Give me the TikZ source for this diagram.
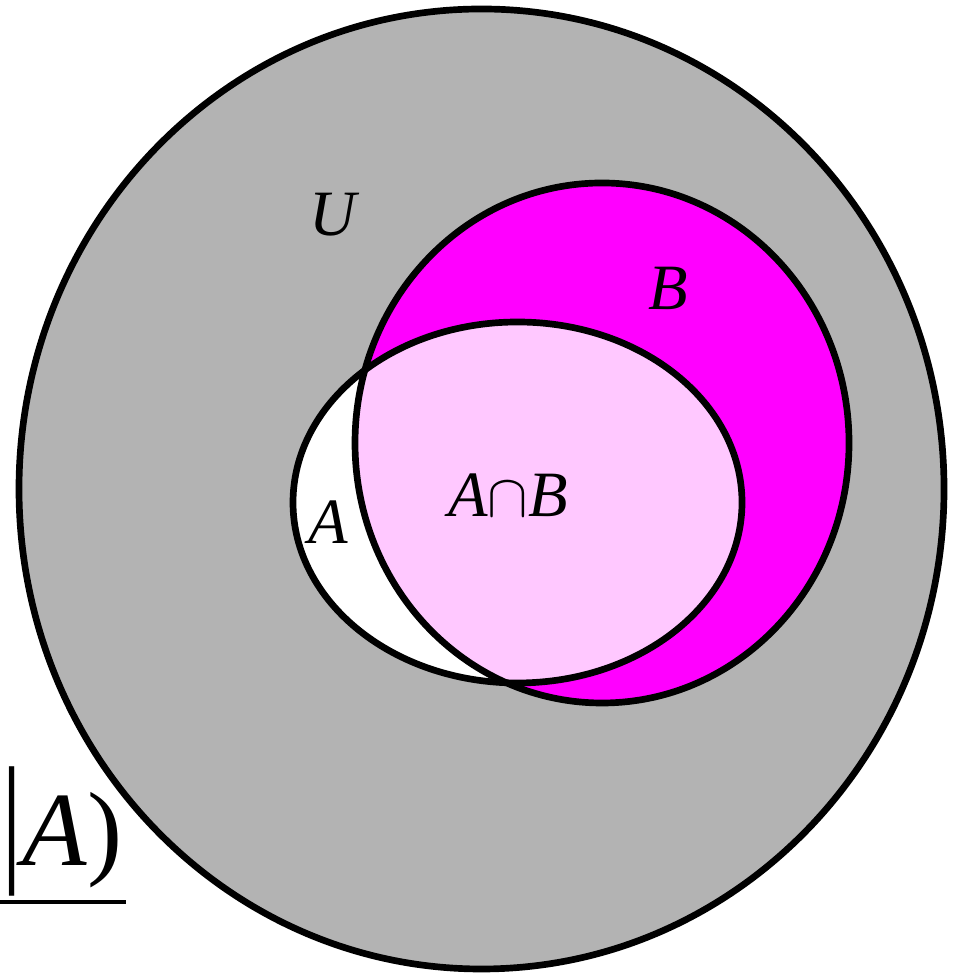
\documentclass[tikz,border=0pt]{standalone}
\usepackage{fontspec}
\setmainfont{Liberation Serif}
\definecolor{ugray}{HTML}{B3B3B3}
\definecolor{bmagenta}{HTML}{FF00FF}
\definecolor{abpink}{HTML}{FFC8FF}

\begin{document}
\begin{tikzpicture}[
    setline/.style={draw=black, line width=1.9pt},
    setlabel/.style={inner sep=0pt, font=\fontsize{18.4}{22}\selectfont\itshape},
    biglabel/.style={inner sep=0pt, font=\fontsize{30}{36}\selectfont}
]
\useasboundingbox (0,0) rectangle (9.52,9.77);

% ==================== REGIONS ====================
\fill[ugray] (4.815,4.88) ellipse [x radius=4.625cm, y radius=4.80cm];
\fill[bmagenta] (6.02,5.34) ellipse [x radius=2.47cm, y radius=2.60cm];
\fill[white] (5.175,4.745) ellipse [x radius=2.245cm, y radius=1.805cm];
\begin{scope}
    \clip (5.175,4.745) ellipse [x radius=2.245cm, y radius=1.805cm];
    \fill[abpink] (6.02,5.34) ellipse [x radius=2.47cm, y radius=2.60cm];
\end{scope}

% ==================== OUTLINES ====================
\draw[setline] (4.815,4.88) ellipse [x radius=4.625cm, y radius=4.80cm];
\draw[setline] (6.02,5.34) ellipse [x radius=2.47cm, y radius=2.60cm];
\draw[setline] (5.175,4.745) ellipse [x radius=2.245cm, y radius=1.805cm];

% ==================== LABELS ====================
\node[setlabel] (ulabel) at (3.33,7.62) {U};
\node[setlabel] (blabel) at (6.68,6.89) {B};
\node[setlabel] (alabel) at (3.28,4.55) {A};
\node[setlabel] (ablabel) at (5.08,4.82) {A$\cap$B};

% ==================== FRACTION PART ====================
\node[biglabel] (cond) at (0.62,1.46) {\scalebox{1}[1.35]{|}\textit{A})};
\coordinate (barleft) at (0,0.75);
\coordinate (barright) at (1.26,0.75);
\draw[line width=1.2pt] (barleft) -- (barright);

\end{tikzpicture}
\end{document}
